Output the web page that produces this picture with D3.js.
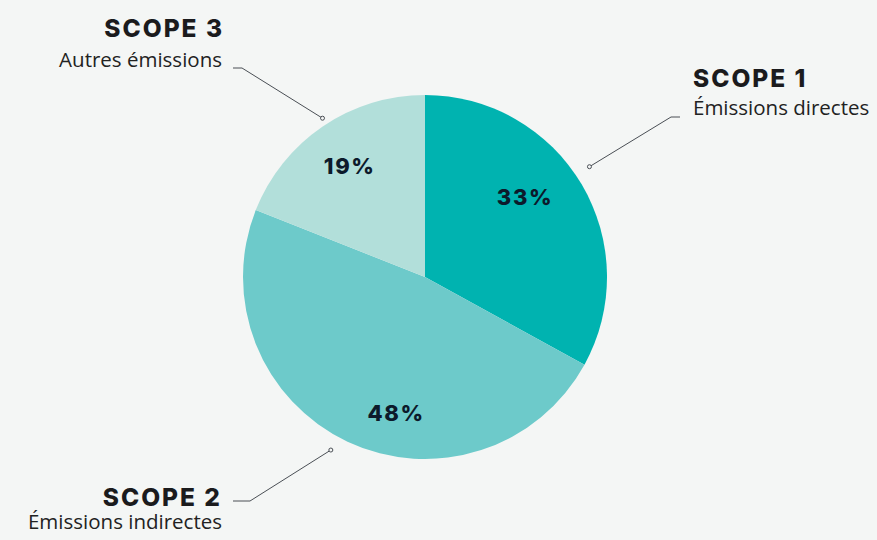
<!DOCTYPE html>
<html>
<head>
<meta charset="utf-8">
<script src="https://cdn.jsdelivr.net/npm/d3@7"></script>
<style>
  body { margin: 0; background: #f4f6f5; }
  svg { display: block; }
</style>
</head>
<body>
<div id="chart"></div>
<script>
// Data
const scopes = ["SCOPE 1", "SCOPE 2", "SCOPE 3"];
const subtitles = ["Émissions directes", "Émissions indirectes", "Autres émissions"];
const shares = [33, 48, 19];
const colours = ["#00b3b0", "#6dcaca", "#b2dfda"];

const width = 877;
const height = 540;
const cx = 425, cy = 277, radius = 182;

const svg = d3.select("#chart").append("svg")
    .attr("width", width)
    .attr("height", height)

svg.append("rect")
    .attr("width", width)
    .attr("height", height)
    .attr("fill", "#f4f6f5")

const pie = d3.pie().sort(null).value(d => d)
const arcs = pie(shares)

const arc = d3.arc().innerRadius(0).outerRadius(radius)

const g = svg.append("g").attr("transform", `translate(${cx},${cy})`)

g.selectAll("path.slice")
    .data(arcs)
    .join("path")
    .attr("class", "slice")
    .attr("fill", (d, i) => colours[i])
    .attr("d", arc)

// percentage labels, nudged a bit from the arc middle like the original
const labelTweak = [
    { da: -0.14, r: 128 },
    { da: -0.23, r: 139 },
    { da: 0.0, r: 134 }
]
g.selectAll("text.pct")
    .data(arcs)
    .join("text")
    .attr("class", "pct")
    .attr("x", (d, i) => {
        const a = (d.startAngle + d.endAngle) / 2 + labelTweak[i].da
        return Math.sin(a) * labelTweak[i].r
    })
    .attr("y", (d, i) => {
        const a = (d.startAngle + d.endAngle) / 2 + labelTweak[i].da
        return -Math.cos(a) * labelTweak[i].r + 8
    })
    .attr("text-anchor", "middle")
    .attr("font-family", "Inter, sans-serif")
    .attr("font-weight", 800)
    .attr("font-size", 22)
    .attr("letter-spacing", 1.6)
    .attr("fill", "#0c1a2b")
    .text(d => d.data + "%")

// leader lines + captions (callout layout per slice)
const callouts = [
    { dotR: 198, elbow: [671, 117], end: [680, 117], anchor: "start", tx: 693, ty1: 87, ty2: 115 },
    { dotR: 197, elbow: [250, 501], end: [233, 501], anchor: "end", tx: 222, ty1: 506, ty2: 529, titleX: 220 },
    { dotR: 189, elbow: [242, 68], end: [233, 68], anchor: "end", tx: 222, ty1: 37, ty2: 67 }
]

// angle of the dot along the slice edge
const dotAngle = [0.98, 3.64, 5.71]

arcs.forEach((d, i) => {
    const c = callouts[i]
    const a = dotAngle[i]
    const dx = cx + Math.sin(a) * c.dotR
    const dy = cy - Math.cos(a) * c.dotR

    svg.append("path")
        .attr("d", d3.line()([[dx, dy], c.elbow, c.end]))
        .attr("fill", "none")
        .attr("stroke", "#4a4f55")
        .attr("stroke-width", 1)

    svg.append("circle")
        .attr("cx", dx)
        .attr("cy", dy)
        .attr("r", 2)
        .attr("fill", "#f4f6f5")
        .attr("stroke", "#4a4f55")
        .attr("stroke-width", 1)

    svg.append("text")
        .attr("x", (c.titleX || c.tx) + (c.anchor === "end" ? 2 : 0))
        .attr("y", c.ty1)
        .attr("text-anchor", c.anchor)
        .attr("font-family", "Inter, sans-serif")
        .attr("font-weight", 800)
        .attr("font-size", 24.5)
        .attr("letter-spacing", 2)
        .attr("fill", "#1b1b1d")
        .text(scopes[i])

    svg.append("text")
        .attr("x", c.tx)
        .attr("y", c.ty2)
        .attr("text-anchor", c.anchor)
        .attr("font-family", "'Open Sans', sans-serif")
        .attr("font-size", 20.5)
        .attr("fill", "#222")
        .text(subtitles[i])
})
</script>
</body>
</html>
